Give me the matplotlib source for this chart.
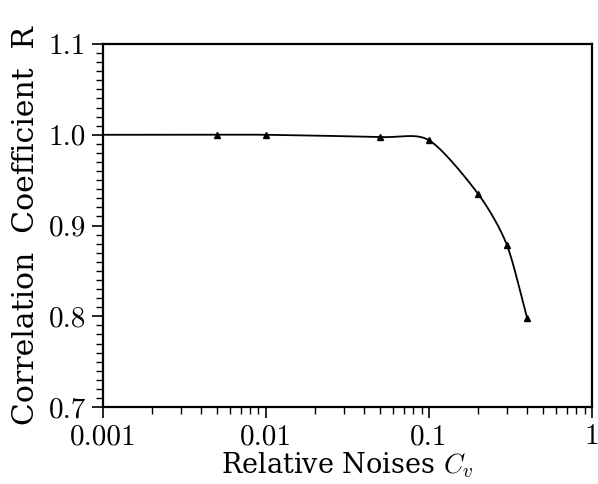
import numpy as np
import matplotlib.pyplot as plt
from matplotlib.ticker import FixedLocator, MultipleLocator, LogLocator, NullFormatter

# data
noise = [0.001, 0.005, 0.01, 0.05, 0.1, 0.2, 0.3, 0.4]
corr = [1.000, 1.000, 1.000, 0.9975, 0.994, 0.935, 0.879, 0.798]
marked = [False, True, True, True, True, True, True, True]
xticks = [0.001, 0.01, 0.1, 1]
xtick_labels = ["0.001", "0.01", "0.1", "1"]
yticks = [0.7, 0.8, 0.9, 1.0, 1.1]
ytick_labels = ["0.7", "0.8", "0.9", "1.0", "1.1"]

plt.rcParams["font.family"] = "serif"
plt.rcParams["font.serif"] = ["cmr10", "DejaVu Serif"]
plt.rcParams["mathtext.fontset"] = "cm"
plt.rcParams["axes.unicode_minus"] = False


def smooth(xs, ys, n=40, tension=0.2):
    # cardinal spline in log-x space, just for drawing the line
    lx = np.log10(xs)
    y = np.array(ys)
    px = np.concatenate([[2 * lx[0] - lx[1]], lx, [2 * lx[-1] - lx[-2]]])
    py = np.concatenate([[2 * y[0] - y[1]], y, [2 * y[-1] - y[-2]]])
    outx, outy = [], []
    s = (1 - tension) / 2
    t = np.linspace(0, 1, n)
    h00 = 2 * t ** 3 - 3 * t ** 2 + 1
    h10 = t ** 3 - 2 * t ** 2 + t
    h01 = -2 * t ** 3 + 3 * t ** 2
    h11 = t ** 3 - t ** 2
    for i in range(1, len(px) - 2):
        for arr, out in ((px, outx), (py, outy)):
            m1 = s * (arr[i + 1] - arr[i - 1])
            m2 = s * (arr[i + 2] - arr[i])
            out.extend(h00 * arr[i] + h10 * m1 + h01 * arr[i + 1] + h11 * m2)
    return 10 ** np.array(outx), np.array(outy)


fig = plt.figure(figsize=(5.98, 4.84), dpi=100)
ax = fig.add_axes([0.172, 0.159, 0.818, 0.750])

sx, sy = smooth(noise, corr)
ax.plot(sx, sy, color="black", lw=1.3, clip_on=False)
mx = [x for x, m in zip(noise, marked) if m]
my = [y for y, m in zip(corr, marked) if m]
ax.plot(mx, my, ls="none", marker="^", ms=5, color="black", clip_on=False)

ax.set_xscale("log")
ax.set_xlim(0.001, 1)
ax.set_ylim(0.7, 1.1)

ax.xaxis.set_major_locator(FixedLocator(xticks))
ax.set_xticklabels(xtick_labels)
ax.xaxis.set_minor_locator(LogLocator(base=10, subs=np.arange(2, 10)))
ax.xaxis.set_minor_formatter(NullFormatter())
ax.yaxis.set_major_locator(FixedLocator(yticks))
ax.set_yticklabels(ytick_labels)
ax.yaxis.set_minor_locator(MultipleLocator(0.01))

ax.tick_params(which="major", direction="out", length=8, width=1.2, labelsize=21, pad=4)
ax.tick_params(which="minor", direction="out", length=5, width=1.0)
for s in ax.spines.values():
    s.set_linewidth(1.6)

ax.set_xlabel("Relative Noises $C_v$", fontsize=19.5, family="DejaVu Serif", labelpad=0)
ax.set_ylabel("Correlation  Coefficient  R", fontsize=21.5, family="DejaVu Serif", labelpad=6)

plt.savefig("out.png", dpi=100)
plt.close()
